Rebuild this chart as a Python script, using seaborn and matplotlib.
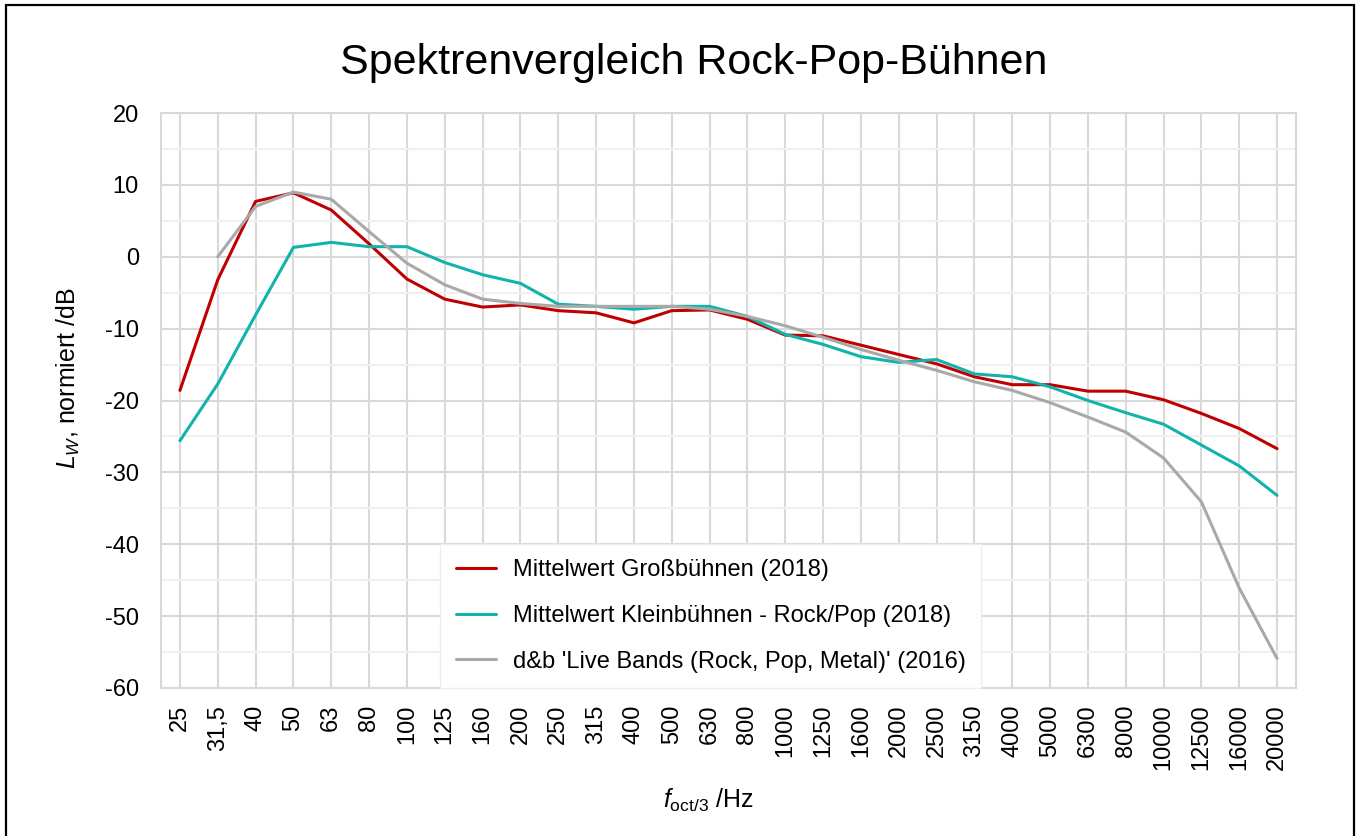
import numpy as np
import pandas as pd
import matplotlib
matplotlib.use('Agg')
import matplotlib.pyplot as plt
import seaborn as sns
from matplotlib.patches import Rectangle

# Terzband-Mittenfrequenzen
freqs = ['25', '31,5', '40', '50', '63', '80', '100', '125', '160', '200',
         '250', '315', '400', '500', '630', '800', '1000', '1250', '1600', '2000',
         '2500', '3150', '4000', '5000', '6300', '8000', '10000', '12500', '16000', '20000']

gross = [-18.6, -3.2, 7.7, 8.9, 6.5, 1.8, -3.1, -5.9, -7.0, -6.7,
         -7.5, -7.8, -9.2, -7.5, -7.4, -8.7, -10.9, -11.0, -12.3, -13.6,
         -14.9, -16.7, -17.8, -17.8, -18.7, -18.7, -19.9, -21.8, -23.9, -26.7]

klein = [-25.6, -17.7, -8.1, 1.3, 2.0, 1.4, 1.4, -0.8, -2.5, -3.7,
         -6.6, -6.9, -7.3, -6.9, -6.9, -8.3, -10.8, -12.2, -13.9, -14.7,
         -14.3, -16.3, -16.7, -18.1, -20.0, -21.7, -23.3, -26.2, -29.1, -33.2]

db_live = [np.nan, 0.0, 7.0, 9.0, 8.0, 3.5, -0.9, -3.9, -5.9, -6.5,
           -6.9, -6.9, -6.9, -6.9, -7.3, -8.3, -9.6, -11.2, -12.9, -14.4,
           -15.8, -17.4, -18.6, -20.3, -22.3, -24.4, -28.0, -34.1, -46.1, -55.9]

labels = ['Mittelwert Großbühnen (2018)',
          'Mittelwert Kleinbühnen - Rock/Pop (2018)',
          "d&b 'Live Bands (Rock, Pop, Metal)' (2016)"]
colors = ['#C00000', '#12B2AD', '#A9A9A9']

sns.set_theme(style='white')
plt.rcParams['font.family'] = ['Liberation Sans', 'DejaVu Sans']
plt.rcParams['mathtext.fontset'] = 'custom'
plt.rcParams['mathtext.rm'] = 'Liberation Sans'
plt.rcParams['mathtext.it'] = 'Liberation Sans:italic'
plt.rcParams['axes.unicode_minus'] = False
for k in ['text.color', 'xtick.color', 'ytick.color', 'axes.labelcolor']:
    plt.rcParams[k] = 'black'

df = pd.DataFrame({'idx': np.arange(len(freqs)), 'gross': gross, 'klein': klein, 'db': db_live})

fig = plt.figure(figsize=(13.59, 8.36), dpi=100)
ax = fig.add_axes([161 / 1359, 1 - 688 / 836, (1296 - 161) / 1359, (688 - 113) / 836])

for col, lab, c in zip(['gross', 'klein', 'db'], labels, colors):
    sns.lineplot(data=df, x='idx', y=col, ax=ax, color=c, linewidth=2.2, label=lab)

ax.set_xlim(-0.5, len(freqs) - 0.5)
ax.set_ylim(-60, 20)
ax.set_xticks(np.arange(len(freqs)))
ax.set_xticklabels(freqs, rotation=90, fontsize=17)
ax.set_yticks(np.arange(-60, 21, 10))
ax.set_yticks(np.arange(-55, 20, 10), minor=True)
ax.tick_params(axis='y', labelsize=17, pad=16, length=0)
ax.tick_params(axis='x', pad=12, length=0)
ax.tick_params(which='minor', length=0)
ax.grid(True, which='major', color='#D9D9D9', linewidth=1.5)
ax.grid(True, which='minor', axis='y', color='#F0F0F0', linewidth=1.5)
ax.set_axisbelow(True)
for s in ax.spines.values():
    s.set_color('#D9D9D9')
    s.set_linewidth(1.5)
ax.set_xlabel('')
ax.set_ylabel('')

leg = ax.legend(loc='lower left', bbox_to_anchor=(0.246, 0.0), fontsize=17,
                frameon=True, fancybox=False, framealpha=1, edgecolor='#EEEEEE',
                handlelength=1.7, handletextpad=0.72, labelspacing=1.0,
                borderpad=0.65, borderaxespad=0)
leg.get_frame().set_linewidth(1.0)

fig.text(694 / 1359, 1 - 63 / 836, 'Spektrenvergleich Rock-Pop-Bühnen',
         ha='center', va='center', fontsize=31)
fig.text(68 / 1359, 1 - 378 / 836, r'$L_W$, normiert /dB', rotation=90,
         ha='center', va='center', fontsize=18)
fig.text(708 / 1359, 1 - 800 / 836, r'$f_{\mathrm{oct/3}}$ /Hz',
         ha='center', va='center', fontsize=18)

# Rahmen um das Diagramm
fig.patches.append(Rectangle((6 / 1359, -0.05), (1354 - 6) / 1359, 1.05 - 5 / 836,
                             transform=fig.transFigure, fill=False,
                             edgecolor='black', linewidth=1.6))

fig.savefig('out.png', dpi=100)
